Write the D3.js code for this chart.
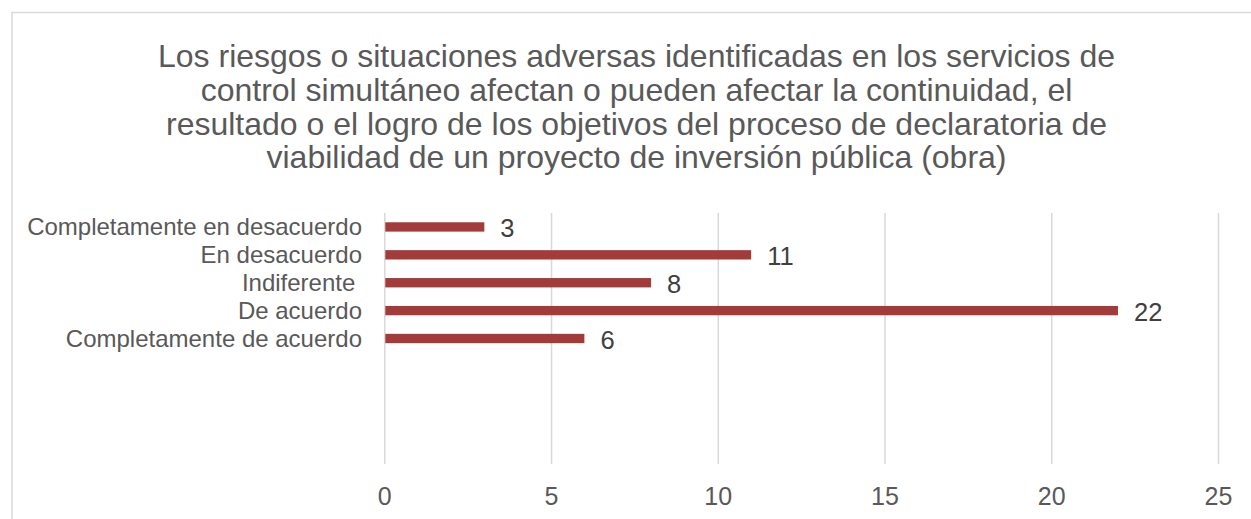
<!DOCTYPE html>
<html>
<head>
<meta charset="utf-8">
<script src="https://cdn.jsdelivr.net/npm/d3@7"></script>
<style>
  html, body { margin: 0; padding: 0; background: #ffffff; }
  svg { display: block; font-family: "Liberation Sans", Arial, sans-serif; }
</style>
</head>
<body>
<svg id="chart" width="1251" height="519"></svg>
<script>
// ---- data ----
const titleLines = [
  "Los riesgos o situaciones adversas identificadas en los servicios de",
  "control simultáneo afectan o pueden afectar la continuidad, el",
  "resultado o el logro de los objetivos del proceso de declaratoria de",
  "viabilidad de un proyecto de inversión pública (obra)"
];
const categories = [
  "Completamente en desacuerdo",
  "En desacuerdo",
  "Indiferente ",
  "De acuerdo",
  "Completamente de acuerdo",
  "", "", "", ""
];
const values = [3, 11, 8, 22, 6, null, null, null, null];
const xTicks = [0, 5, 10, 15, 20, 25];

// ---- layout ----
const svg = d3.select("#chart");
const textColor = "#595959";
const gridColor = "#D9D9D9";
const barColor = "#A33B3B";

const plot = { left: 384.3, right: 1218, top: 213, bottom: 464 };

// chart border (extends beyond the visible window on right and bottom)
svg.append("rect")
  .attr("x", 12).attr("y", 12.5)
  .attr("width", 1300).attr("height", 600)
  .attr("fill", "none")
  .attr("stroke", gridColor)
  .attr("stroke-width", 1.5);

// title
const title = svg.append("text")
  .attr("text-anchor", "middle")
  .attr("fill", textColor)
  .attr("font-size", 32);
titleLines.forEach((t, i) => {
  title.append("tspan")
    .attr("x", 636.5)
    .attr("y", 67 + i * 33.8)
    .text(t);
});

const rows = categories.map((c, i) => ({ key: "r" + i, label: c, value: values[i] }));

const x = d3.scaleLinear().domain([0, 25]).range([plot.left, plot.right]);
const y = d3.scaleBand()
  .domain(rows.map(d => d.key))
  .range([plot.top, plot.bottom])
  .paddingInner(0.665)
  .paddingOuter(0.3325);

// gridlines
const grid = d3.axisBottom(x).tickValues(xTicks).tickSize(-(plot.bottom - plot.top)).tickFormat("");
svg.append("g")
  .attr("transform", `translate(0,${plot.bottom})`)
  .call(grid)
  .call(g => g.select(".domain").remove())
  .call(g => g.selectAll(".tick line").attr("stroke", gridColor).attr("stroke-width", 1.5));

// x tick labels
const xAxis = d3.axisBottom(x).tickValues(xTicks).tickSize(0).tickPadding(0).tickFormat(d3.format("d"));
svg.append("g")
  .attr("transform", `translate(0,${plot.bottom})`)
  .call(xAxis)
  .call(g => g.select(".domain").remove())
  .call(g => g.selectAll(".tick text")
    .attr("fill", textColor)
    .attr("font-size", 25)
    .attr("font-family", "Liberation Sans, Arial, sans-serif")
    .attr("dy", null)
    .attr("y", 41));

// y category labels
const yAxis = d3.axisLeft(y).tickSize(0).tickPadding(0).tickFormat(k => rows.find(r => r.key === k).label);
svg.append("g")
  .attr("transform", `translate(362,0)`)
  .call(yAxis)
  .call(g => g.select(".domain").remove())
  .call(g => g.selectAll(".tick text")
    .attr("fill", textColor)
    .attr("font-size", 24)
    .attr("font-family", "Liberation Sans, Arial, sans-serif")
    .attr("x", 0)
    .attr("dy", "0.35em")
    .style("white-space", "pre"));

// bars
const data = rows.filter(d => d.value != null);
svg.append("g").selectAll("rect")
  .data(data)
  .join("rect")
  .attr("x", x(0) + 1)
  .attr("y", d => y(d.key))
  .attr("width", d => x(d.value) - x(0) - 1)
  .attr("height", y.bandwidth())
  .attr("fill", barColor);

// value labels
svg.append("g").selectAll("text")
  .data(data)
  .join("text")
  .attr("x", d => x(d.value) + 16)
  .attr("y", d => y(d.key) + y.bandwidth() / 2)
  .attr("dy", "0.4em")
  .attr("fill", "#404040")
  .attr("font-size", 25.5)
  .text(d => d.value);
</script>
</body>
</html>
